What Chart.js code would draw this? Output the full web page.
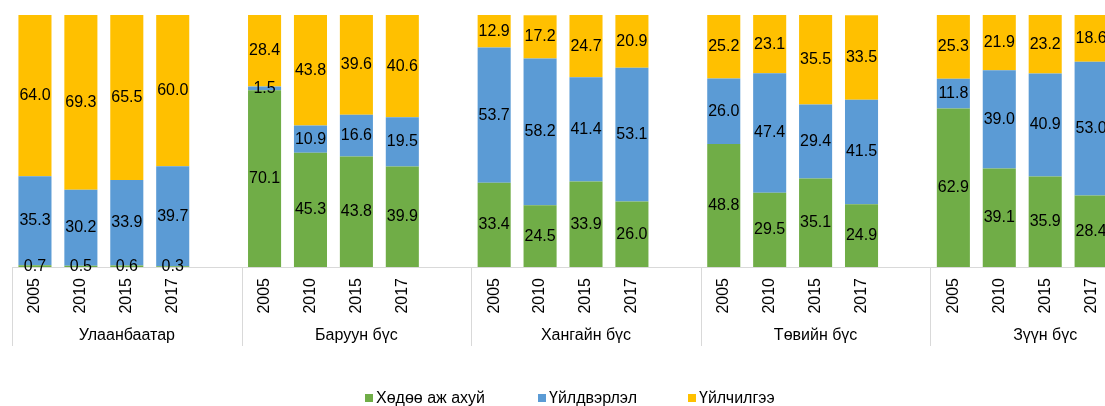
<!DOCTYPE html>
<html>
<head>
<meta charset="utf-8">
<script src="https://cdn.jsdelivr.net/npm/chart.js@4/dist/chart.umd.min.js"></script>
<style>
  html, body { margin: 0; padding: 0; background: #fff; overflow: hidden; }
  #wrap { width: 1105px; height: 406px; overflow: hidden; }
</style>
</head>
<body>
<div id="wrap"><canvas id="plot" width="1160" height="406"></canvas></div>
<script>
const regions = ["Улаанбаатар", "Баруун бүс", "Хангайн бүс", "Төвийн бүс", "Зүүн бүс"];
const years = ["2005", "2010", "2015", "2017"];
const seriesNames = ["Хөдөө аж ахуй", "Үйлдвэрлэл", "Үйлчилгээ"];

// per region, per year
const agriculture = [
    [0.7, 0.5, 0.6, 0.3],
    [70.1, 45.3, 43.8, 39.9],
    [33.4, 24.5, 33.9, 26.0],
    [48.8, 29.5, 35.1, 24.9],
    [62.9, 39.1, 35.9, 28.4]
];
const industry = [
    [35.3, 30.2, 33.9, 39.7],
    [1.5, 10.9, 16.6, 19.5],
    [53.7, 58.2, 41.4, 53.1],
    [26.0, 47.4, 29.4, 41.5],
    [11.8, 39.0, 40.9, 53.0]
];
const services = [
    [64.0, 69.3, 65.5, 60.0],
    [28.4, 43.8, 39.6, 40.6],
    [12.9, 17.2, 24.7, 20.9],
    [25.2, 23.1, 35.5, 33.5],
    [25.3, 21.9, 23.2, 18.6]
];

const colors = ["#70AD47", "#5B9BD5", "#FFC000"];

// each region gets its 4 years plus one blank slot
const labels = [];
const flat = (rows) => {
    const out = [];
    rows.forEach(r => { r.forEach(v => out.push(v)); out.push(null); });
    return out;
};
regions.forEach(() => {
    years.forEach(y => labels.push(y));
    labels.push("");
});

const seriesData = [flat(agriculture), flat(industry), flat(services)];

const FONT = '"Liberation Sans", Arial, sans-serif';

const valueLabels = {
    id: 'valueLabels',
    afterDatasetsDraw(chart) {
        const ctx = chart.ctx;
        ctx.save();
        ctx.font = '16px ' + FONT;
        ctx.fillStyle = '#000';
        ctx.textAlign = 'center';
        ctx.textBaseline = 'middle';
        chart.data.datasets.forEach((ds, di) => {
            const meta = chart.getDatasetMeta(di);
            meta.data.forEach((bar, i) => {
                const v = ds.data[i];
                if (v === null || v === undefined) return;
                ctx.fillText(v.toFixed(1), bar.x, (bar.y + bar.base) / 2);
            });
        });
        ctx.restore();
    }
};

const groupAxis = {
    id: 'groupAxis',
    beforeDatasetsDraw(chart) {
        const ctx = chart.ctx;
        const area = chart.chartArea;
        const slot = (area.right - area.left) / labels.length;
        ctx.save();
        ctx.strokeStyle = '#D9D9D9';
        ctx.lineWidth = 1;
        ctx.beginPath();
        ctx.moveTo(area.left, area.bottom + 0.5);
        ctx.lineTo(area.right, area.bottom + 0.5);
        for (let g = 0; g <= regions.length; g++) {
            const gx = Math.round(area.left + g * 5 * slot) + 0.5;
            ctx.moveTo(gx, area.bottom);
            ctx.lineTo(gx, area.bottom + 79);
        }
        ctx.stroke();
        ctx.restore();
    },
    afterDraw(chart) {
        const ctx = chart.ctx;
        const area = chart.chartArea;
        const x = chart.scales.x;
        const slot = (area.right - area.left) / labels.length;
        ctx.save();
        ctx.fillStyle = '#000';
        ctx.font = '16px ' + FONT;
        labels.forEach((lab, i) => {
            if (!lab) return;
            const cx = x.getPixelForValue(i);
            ctx.save();
            ctx.translate(cx, area.bottom + 11);
            ctx.rotate(-Math.PI / 2);
            ctx.textAlign = 'right';
            ctx.textBaseline = 'middle';
            ctx.fillText(lab, 0, 0);
            ctx.restore();
        });
        ctx.textAlign = 'center';
        ctx.textBaseline = 'middle';
        regions.forEach((reg, g) => {
            const cx = area.left + (g * 5 + 2.5) * slot;
            ctx.fillText(reg, cx, area.bottom + 69);
        });

        // legend
        const legendX = [365, 538, 688];
        const ly = 398;
        ctx.textAlign = 'left';
        seriesNames.forEach((name, i) => {
            ctx.fillStyle = colors[i];
            ctx.fillRect(legendX[i], ly - 4, 8, 8);
            ctx.fillStyle = '#000';
            ctx.fillText(name, legendX[i] + 11, ly + 1);
        });
        ctx.restore();
    }
};

const ctx = document.getElementById('plot').getContext('2d');
new Chart(ctx, {
    type: 'bar',
    data: {
        labels: labels,
        datasets: seriesNames.map((name, i) => ({
            label: name,
            data: seriesData[i],
            backgroundColor: colors[i],
            borderWidth: 0,
            categoryPercentage: 1.0,
            barPercentage: 0.72
        }))
    },
    options: {
        responsive: false,
        animation: false,
        layout: { padding: { left: 12, right: 0, top: 15, bottom: 139 } },
        plugins: {
            legend: { display: false },
            tooltip: { enabled: false }
        },
        scales: {
            x: { stacked: true, display: false },
            y: { stacked: true, display: false, min: 0, max: 100 }
        }
    },
    plugins: [valueLabels, groupAxis]
});
</script>
</body>
</html>
